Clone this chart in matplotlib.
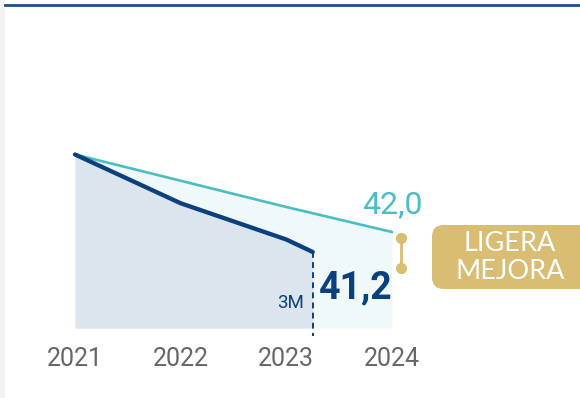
import matplotlib
matplotlib.use("Agg")
import matplotlib.pyplot as plt
from matplotlib.patches import FancyBboxPatch, Rectangle
from matplotlib.lines import Line2D

# Data
years = [2021, 2022, 2023, 2024]
tick_labels = ["2021", "2022", "2023", "2024"]
target_values = [45.1, 44.05, 43.0, 42.0]          # reference trajectory
actual_x = [2021, 2022, 2023, 2023.25]             # last point = 3 months into 2023
actual_values = [45.1, 43.15, 41.7, 41.2]
target_label = "42,0"
actual_label = "41,2"
partial_label = "3M"
badge_text = "LIGERA\nMEJORA"
BASE = 38.16

DARK = "#0b3f7e"
TEAL = "#4bbdc5"
DARK_FILL = "#dae5ed"
LIGHT_FILL = "#f0f9fa"
GOLD = "#d8bd73"
GREY = "#666666"

W, H = 580, 398
fig = plt.figure(figsize=(W / 100, H / 100), dpi=100)
fig.patch.set_facecolor("white")

# left grey strip and top rule
fig.patches.append(Rectangle((0, 0), 5 / W, 1, transform=fig.transFigure,
                             facecolor="#f2f2f2", edgecolor="none", zorder=0))
fig.lines.append(Line2D([5 / W, 1], [1 - 5.2 / H, 1 - 5.2 / H], transform=fig.transFigure,
                        color="#1d4f8c", lw=2.0, zorder=5))

ax = fig.add_axes([5 / W, (H - 328) / H, 575 / W, 328 / H])
ax.set_facecolor("none")
px_per_year = 317 / 3
ax.set_xlim(2021 - 70 / px_per_year, 2024 + 188 / px_per_year)
ax.set_ylim(BASE, BASE + 328 / 25)

ax.fill_between(years, target_values, BASE, color=LIGHT_FILL, lw=0, zorder=1)
ax.fill_between(actual_x, actual_values, BASE, color=DARK_FILL, lw=0, zorder=2)
ax.plot(years, target_values, color=TEAL, lw=1.9, zorder=3, solid_capstyle="round")
ax.plot(actual_x, actual_values, color=DARK, lw=3.1, zorder=4,
        solid_capstyle="round", solid_joinstyle="round")

# partial-year marker
ax.plot([actual_x[-1], actual_x[-1]], [actual_values[-1], BASE - 0.32], color=DARK,
        lw=1.4, ls=(0, (3, 2.2)), zorder=5, clip_on=False)

ax.text(years[-1], target_values[-1] + 0.76, target_label, color=TEAL,
        fontsize=23, family="Roboto", ha="center", va="baseline", zorder=6)
ax.text(actual_x[-1] + 0.06, BASE + 1.2, actual_label, color=DARK,
        fontsize=27, family="Roboto", fontweight="bold", ha="left", va="baseline", zorder=6)
ax.text(actual_x[-1] - 0.08, BASE + 0.8, partial_label, color=DARK,
        fontsize=13.5, family="Roboto", ha="right", va="baseline", zorder=6)

# gap indicator
gx = years[-1] + 9 / px_per_year
gy = [target_values[-1] - 0.24, target_values[-1] - 1.44]
ax.plot([gx, gx], gy, color=GOLD, lw=2.0, zorder=6, clip_on=False)
ax.plot([gx, gx], gy, "o", color=GOLD, ms=7, zorder=6, clip_on=False)

# badge
badge = FancyBboxPatch((432 / W, (H - 289) / H), 170 / W, 64 / H,
                       boxstyle="round,pad=0,rounding_size=0.02",
                       transform=fig.transFigure, facecolor=GOLD, edgecolor="none",
                       mutation_aspect=W / H, zorder=3)
fig.patches.append(badge)
fig.text(510 / W, 1 - 257.5 / H, badge_text, color="white", fontsize=19.5, family="Lato",
         ha="center", va="center", linespacing=1.15, zorder=4)

ax.set_xticks(years)
ax.set_xticklabels(tick_labels, fontsize=18, family="Roboto", color=GREY)
ax.tick_params(axis="x", length=0, pad=14)
ax.set_yticks([])
for s in ax.spines.values():
    s.set_visible(False)

fig.savefig("out.png", dpi=100)
